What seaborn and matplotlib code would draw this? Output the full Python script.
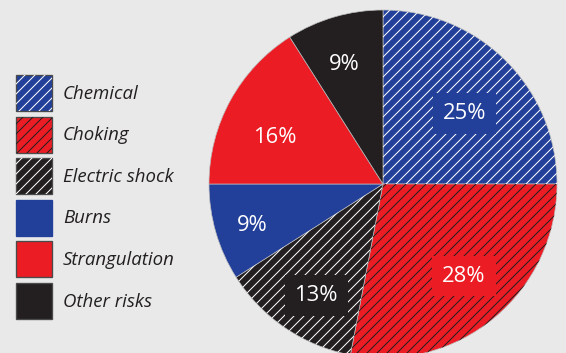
import numpy as np
import matplotlib
matplotlib.use("Agg")
import matplotlib.pyplot as plt
import seaborn as sns
from matplotlib.patches import Patch
from matplotlib.legend_handler import HandlerTuple

# ---- data ----
categories = ["Chemical", "Choking", "Electric shock", "Burns", "Strangulation", "Other risks"]
shares = [25, 28, 13, 9, 16, 9]
pct_labels = ["25%", "28%", "13%", "9%", "16%", "9%"]

# ---- style ----
BLUE, RED, BLACK = "#22409a", "#ec1c24", "#231f20"
BG = "#e9e9e9"
face_colors = [BLUE, RED, BLACK, BLUE, RED, BLACK]
hatch_colors = ["white", BLACK, "white", None, None, None]
label_boxed = [True, True, True, False, False, False]
label_dist = [0.62, 0.705, 0.745, 0.79, 0.68, 0.72]
label_angle_shift = [-4.1, 1.8, 3.2, 1.2, 5.5, 1.8]

sns.set_theme(style="white")
plt.rcParams["font.family"] = ["Open Sans", "DejaVu Sans"]
plt.rcParams["hatch.linewidth"] = 0.6

DPI = 120
W, H = 566, 353
fig = plt.figure(figsize=(W / DPI, H / DPI), dpi=DPI, facecolor=BG)

cx, cy, R = 383, 353 - 184, 174
ax = fig.add_axes([(cx - R) / W, (cy - R) / H, 2 * R / W, 2 * R / H])
ax.set_facecolor(BG)

wedges, _ = ax.pie(shares, colors=face_colors, startangle=90, counterclock=False,
                   radius=1, wedgeprops=dict(linewidth=0.4, edgecolor="#bdbdbd"))
hw, _ = ax.pie(shares, colors=["none"] * len(shares), startangle=90, counterclock=False,
               radius=1, wedgeprops=dict(linewidth=0))
for w, hc in zip(hw, hatch_colors):
    if hc is None:
        w.set_visible(False)
    else:
        w.set_hatch("////")
        w.set_edgecolor(hc)
        w.set_facecolor("none")

ax.set_xlim(-1, 1)
ax.set_ylim(-1, 1)
ax.axis("off")

for w, lab, d, sh, boxed, fc in zip(wedges, pct_labels, label_dist, label_angle_shift,
                                     label_boxed, face_colors):
    mid = np.deg2rad((w.theta1 + w.theta2) / 2 + sh)
    x, y = d * np.cos(mid), d * np.sin(mid)
    kw = {}
    if boxed:
        kw["bbox"] = dict(boxstyle="square,pad=0.45", facecolor=fc, edgecolor="none")
    ax.text(x, y, lab, ha="center", va="center", color="white", fontsize=13.2, **kw)

# legend
handles = []
for fc, hc in zip(face_colors, hatch_colors):
    base = Patch(facecolor=fc, edgecolor=fc if (fc == BLUE and hc is None) else "#4a4a4a",
                 linewidth=0.8)
    if hc is None:
        handles.append(base)
    else:
        handles.append((base, Patch(facecolor="none", edgecolor=hc, hatch="////", linewidth=0)))

fs = 11.2
leg = fig.legend(handles, categories, loc="upper left",
                 bbox_to_anchor=(16 / W, 1 - 75 / H), frameon=False,
                 fontsize=fs, borderpad=0, borderaxespad=0,
                 handlelength=1.93, handleheight=2.59, labelspacing=0.30,
                 handletextpad=0.59,
                 handler_map={tuple: HandlerTuple(ndivide=1, pad=0)})
for t in leg.get_texts():
    t.set_style("italic")
    t.set_color(BLACK)

fig.savefig("out.png", dpi=DPI, facecolor=BG)
